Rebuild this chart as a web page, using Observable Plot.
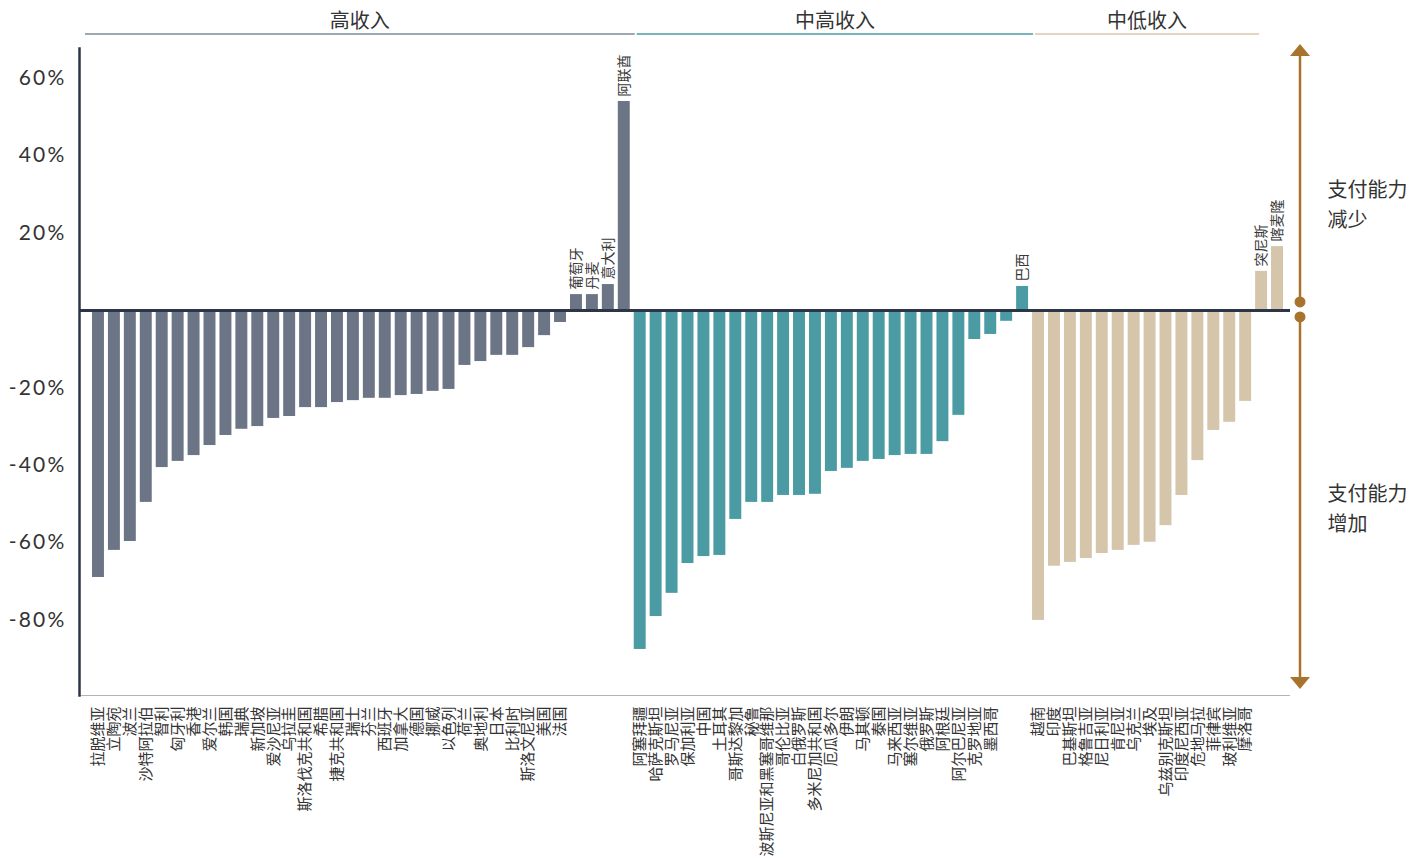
<!DOCTYPE html>
<html><head><meta charset="utf-8">
<script src="https://cdn.jsdelivr.net/npm/d3@7"></script>
<script src="https://cdn.jsdelivr.net/npm/@observablehq/plot@0.6"></script>
<style>
body{margin:0;background:#fff;}
#chart{width:1424px;height:867px;}
</style></head><body><div id="chart"></div>
<script>
const groups = ["高收入", "中高收入", "中低收入"];
const groupColors = ["#6b7586", "#4b9ba5", "#d4c5ab"];
const groupLineColors = ["#7d8c99", "#4b9ba5", "#d9c9ad"];

const highNames = ["拉脱维亚","立陶宛","波兰","沙特阿拉伯","智利","匈牙利","香港","爱尔兰","韩国","瑞典","新加坡","爱沙尼亚","乌拉圭","斯洛伐克共和国","希腊","捷克共和国","瑞士","芬兰","西班牙","加拿大","德国","挪威","以色列","荷兰","奥地利","日本","比利时","斯洛文尼亚","美国","法国","葡萄牙","丹麦","意大利","阿联酋"];
const highValues = [-69.0,-62.0,-59.7,-49.6,-40.6,-39.0,-37.5,-34.9,-32.3,-30.7,-30.0,-27.9,-27.4,-25.1,-25.1,-23.8,-23.3,-22.7,-22.7,-22.0,-21.7,-20.9,-20.4,-14.2,-13.2,-11.6,-11.6,-9.6,-6.5,-3.1,4.1,4.1,6.7,54.0];

const umNames = ["阿塞拜疆","哈萨克斯坦","罗马尼亚","保加利亚","中国","土耳其","哥斯达黎加","秘鲁","波斯尼亚和黑塞哥维那","哥伦比亚","白俄罗斯","多米尼加共和国","厄瓜多尔","伊朗","马其顿","泰国","马来西亚","塞尔维亚","俄罗斯","阿根廷","阿尔巴尼亚","克罗地亚","墨西哥","","巴西"];
const umValues = [-87.6,-79.1,-73.1,-65.4,-63.6,-63.3,-54.0,-49.6,-49.6,-47.8,-47.8,-47.5,-41.6,-40.8,-39.0,-38.5,-37.5,-37.2,-37.2,-33.9,-27.1,-7.5,-6.2,-2.8,6.2];

const lmNames = ["越南","印度","巴基斯坦","格鲁吉亚","尼日利亚","肯尼亚","乌克兰","埃及","乌兹别克斯坦","印度尼西亚","危地马拉","菲律宾","玻利维亚","摩洛哥","突尼斯","喀麦隆"];
const lmValues = [-80.1,-66.1,-65.1,-64.1,-62.8,-62.0,-60.7,-59.9,-55.6,-47.8,-38.8,-31.0,-28.9,-23.5,10.1,16.5];

const yTicks = [-80, -60, -40, -20, 20, 40, 60];
const sideLabelTop = ["支付能力", "减少"];
const sideLabelBottom = ["支付能力", "增加"];

// build table
const data = [];
[[groups[0], highNames, highValues], [groups[1], umNames, umValues], [groups[2], lmNames, lmValues]]
  .forEach(([g, names, vals]) => names.forEach((n, i) => data.push({key: String(data.length), name: n, value: vals[i], group: g})));
const byKey = new Map(data.map(d => [d.key, d]));

const yDomain = [-99.5, 67.7];
const cjk = "'Noto Sans CJK SC', 'Noto Sans', sans-serif";

const plot = Plot.plot({
  width: 1424, height: 867,
  marginTop: 48, marginBottom: 172, marginLeft: 79, marginRight: 134,
  style: {fontFamily: cjk, color: "#333", background: "#fff", overflow: "visible"},
  x: {type: "band", domain: data.map(d => d.key), range: [90, 1285], paddingInner: 0.25, paddingOuter: 0.125},
  y: {domain: yDomain},
  color: {domain: groups, range: groupColors},
  marks: [
    Plot.barY(data, {x: "key", y: "value", fill: "group"}),
    Plot.ruleY([yDomain[0]], {stroke: "#b5b5b5", strokeWidth: 1}),
    Plot.ruleY([0], {stroke: "#2c3646", strokeWidth: 3}),
    Plot.frame({anchor: "left", stroke: "#2c3646", strokeWidth: 2.5}),
    Plot.axisX({anchor: "bottom", tickSize: 0, tickPadding: 11, tickRotate: -90, fontSize: 15, fill: "#333",
      tickFormat: k => (byKey.get(k).value > 0 ? "" : byKey.get(k).name), label: null}),
    Plot.axisY({ticks: yTicks, tickSize: 0, tickPadding: 13, fontSize: 20, fill: "#333",
      tickFormat: d => d + "%", label: null}),
    Plot.text(data.filter(d => d.value > 0), {x: "key", y: "value", text: "name", rotate: -90,
      textAnchor: "start", dy: -5, fontSize: 14, fill: "#3a3a3a"}),
    Plot.text([sideLabelTop.join("\n")], {frameAnchor: "right", y: [28], dx: 37, textAnchor: "start",
      fontSize: 20, lineHeight: 1.5, fill: "#333"}),
    Plot.text([sideLabelBottom.join("\n")], {frameAnchor: "right", y: [-50.6], dx: 37, textAnchor: "start",
      fontSize: 20, lineHeight: 1.5, fill: "#333"})
  ]
});

document.getElementById("chart").appendChild(plot);

// y tick label font
d3.select(plot).selectAll('g[aria-label="y-axis tick label"] text')
  .attr("font-family", "Lato, 'Open Sans', sans-serif").attr("font-size", 21)
  .attr("letter-spacing", 2.2);

const xs = plot.scale("x");
const ys = plot.scale("y");
const bw = xs.bandwidth;
const svg = d3.select(plot);

// group headers
const spans = groups.map(g => {
  const ds = data.filter(d => d.group === g);
  return {g, a: xs.apply(ds[0].key), b: xs.apply(ds[ds.length - 1].key) + bw};
});
const gap = xs.step - bw;
const lineY = 34, textY = 21;
const headerG = svg.append("g");
spans.forEach((s, i) => {
  let left = i === 0 ? s.a - 7 : s.a + gap / 2 + 1;
  let right = i === spans.length - 1 ? s.b - xs.step * 1.5 : s.b + gap / 2 + 3;
  headerG.append("line").attr("x1", left).attr("x2", right).attr("y1", lineY).attr("y2", lineY)
    .attr("stroke", groupLineColors[i]).attr("stroke-width", 1.5);
  headerG.append("text").attr("x", (left + right) / 2).attr("y", textY).attr("dy", "0.35em")
    .attr("text-anchor", "middle").attr("font-size", 20).attr("font-family", cjk).attr("fill", "#333")
    .text(s.g);
});

// side arrow
const arrowColor = "#a8732d";
const ax = 1424 - 134 + 10;
const zeroY = ys.apply(0);
const topY = 44, botY = 689;
const ag = svg.append("g");
ag.append("line").attr("x1", ax).attr("x2", ax).attr("y1", topY + 10).attr("y2", zeroY - 8)
  .attr("stroke", arrowColor).attr("stroke-width", 2.5);
ag.append("line").attr("x1", ax).attr("x2", ax).attr("y1", zeroY + 7).attr("y2", botY - 10)
  .attr("stroke", arrowColor).attr("stroke-width", 2.5);
ag.append("path").attr("d", `M${ax - 10},${topY + 12}L${ax},${topY}L${ax + 10},${topY + 12}Z`).attr("fill", arrowColor);
ag.append("path").attr("d", `M${ax - 10},${botY - 12}L${ax},${botY}L${ax + 10},${botY - 12}Z`).attr("fill", arrowColor);
ag.append("circle").attr("cx", ax).attr("cy", zeroY - 8).attr("r", 5.5).attr("fill", arrowColor);
ag.append("circle").attr("cx", ax).attr("cy", zeroY + 7).attr("r", 5.5).attr("fill", arrowColor);
</script>
</body></html>
